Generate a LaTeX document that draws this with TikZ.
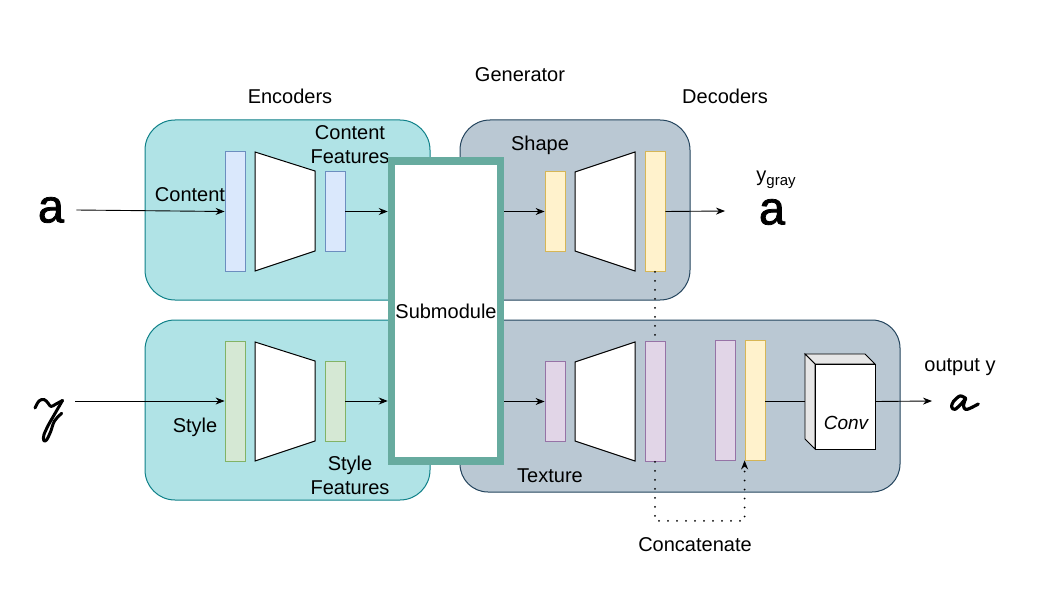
\documentclass[tikz,border=0pt]{standalone}
\usepackage{fontspec}
\setmainfont{Liberation Sans}
\newfontfamily\heavyfont[FakeBold=1.6]{Liberation Sans}
\usetikzlibrary{arrows.meta}
\definecolor{encfill}{HTML}{B0E3E6}
\definecolor{encline}{HTML}{0E8088}
\definecolor{decfill}{HTML}{BAC8D3}
\definecolor{decline}{HTML}{23445D}
\definecolor{subline}{HTML}{67AB9F}
\definecolor{bluef}{HTML}{DAE8FC}\definecolor{bluel}{HTML}{6C8EBF}
\definecolor{greenf}{HTML}{D5E8D4}\definecolor{greenl}{HTML}{82B366}
\definecolor{yellf}{HTML}{FFF2CC}\definecolor{yelll}{HTML}{D6B656}
\definecolor{purpf}{HTML}{E1D5E7}\definecolor{purpl}{HTML}{9673A6}
\definecolor{sidef}{HTML}{E6E6E6}
\begin{document}
\begin{tikzpicture}[x=1pt,y=-1pt,
  lbl/.style={font=\fontsize{20}{24}\selectfont, inner sep=0pt},
  biga/.style={font=\heavyfont\fontsize{47}{50}\selectfont, inner sep=0pt},
  bar/.style={draw, minimum width=20pt, inner sep=0pt, line width=0.8pt},
  bluebar/.style={bar, draw=bluel, fill=bluef},
  greenbar/.style={bar, draw=greenl, fill=greenf},
  yellbar/.style={bar, draw=yelll, fill=yellf},
  purpbar/.style={bar, draw=purpl, fill=purpf},
  encbox/.style={draw=encline, fill=encfill, rounded corners=30pt, line width=1pt, inner sep=0pt},
  decbox/.style={draw=decline, fill=decfill, rounded corners=30pt, line width=1pt, inner sep=0pt},
  arr/.style={-{Stealth[length=9pt,width=7pt]}, line width=0.9pt},
  plain/.style={line width=0.9pt},
  trap/.style={draw, fill=white, line width=1pt},
  dots/.style={line width=2pt, dash pattern=on 0pt off 9pt, line cap=round},
  glyph/.style={line width=3pt, line cap=round, line join=round}]
\useasboundingbox (0,0) rectangle (1041,591);

% containers
\node[encbox, minimum width=285pt, minimum height=180pt] (enc1) at (287.5,210) {};
\node[encbox, minimum width=285pt, minimum height=180pt] (enc2) at (287.5,410) {};
\node[decbox, minimum width=230pt, minimum height=180pt] (dec1) at (575,210) {};
\node[decbox, minimum width=440pt, minimum height=172pt, rounded corners=28pt] (dec2) at (680,406) {};

% titles
\node[lbl] (tenc) at (290,96) {Encoders};
\node[lbl] (tgen) at (520,75) {Generator};
\node[lbl] (tdec) at (725,96) {Decoders};

% encoder top
\node[bluebar, minimum height=120pt] (cbar) at (235,211.5) {};
\draw[trap] (255,152) -- (315,171) -- (315,251) -- (255,271) -- cycle;
\node[bluebar, minimum height=80pt] (cfeat) at (335,211.5) {};
\node[lbl] (lcontent) at (190,195) {Content};
\node[lbl, align=center] (lcfeat) at (350,145) {Content\\Features};

% encoder bottom
\node[greenbar, minimum height=120pt] (sbar) at (235,401.5) {};
\draw[trap] (255,342) -- (315,361) -- (315,441) -- (255,461) -- cycle;
\node[greenbar, minimum height=80pt] (sfeat) at (335,401) {};
\node[lbl] (lstyle) at (195,427) {Style};
\node[lbl, align=center] (lsfeat) at (350,475) {Style\\Features};

% decoder top
\node[yellbar, minimum height=80pt] (shin) at (555,211.5) {};
\draw[trap] (575,172) -- (635,152) -- (635,271) -- (575,251) -- cycle;
\node[yellbar, minimum height=120pt] (shout) at (655,211.5) {};
\node[lbl] (lshape) at (540,145) {Shape};

% decoder bottom
\node[purpbar, minimum height=80pt] (txin) at (555,401.5) {};
\draw[trap] (575,362) -- (635,342) -- (635,461) -- (575,441) -- cycle;
\node[purpbar, minimum height=120pt] (txout) at (655,401.5) {};
\node[purpbar, minimum height=120pt] (cpurp) at (725,400) {};
\node[yellbar, minimum height=120pt] (cyell) at (755,400) {};
\node[lbl] (ltexture) at (550,476) {Texture};

% conv cube
\draw[line width=0.9pt, fill=sidef] (805,354) -- (865,354) -- (875,364) -- (815,364) -- cycle;
\draw[line width=0.9pt, fill=sidef] (805,354) -- (815,364) -- (815,449) -- (805,439) -- cycle;
\node[draw, fill=white, line width=0.9pt, minimum width=60pt, minimum height=85pt, inner sep=0pt] (conv) at (845,406.5) {};
\node[font=\fontsize{19}{21}\selectfont\itshape, inner sep=0pt] (lconv) at (846,423) {Conv};

% submodule
\node[draw=subline, fill=white, line width=7.5pt, minimum width=109pt, minimum height=300pt, inner sep=0pt, font=\fontsize{20}{24}\selectfont] (sub) at (446,311) {Submodule};

% inputs
\node[biga, inner xsep=12pt] (ain) at (51,210) {a};
\coordinate (zin) at (75,401);
\draw[glyph] plot[smooth, tension=0.6] coordinates {(35,408) (39,401) (44,399.5) (48,403) (51,406.5) (56,404) (62.5,400.5)};
\draw[glyph] (62.5,400.5) -- (49.3,423.3);
\draw[glyph] plot[smooth, tension=0.6] coordinates {(49.3,423.3) (44,434.5) (43.8,440.5) (46.5,440) (50.5,432) (54.5,421) (61.7,413.3)};

% outputs
\node[biga] (gray) at (772,212) {a};
\node[lbl] (lgray) at (776,180) {y\raisebox{-4pt}{\fontsize{15}{17}\selectfont gray}};
\coordinate (gend) at (725,211);
\node[lbl] (lout) at (960,367) {output y};
\coordinate (oend) at (932,401);
\draw[glyph, line width=3.2pt] plot[smooth, tension=0.6] coordinates {(965.5,398.3) (960,396) (953.3,401.7) (951.7,407) (955,409.3) (961.7,403.3) (965.7,398.3)};
\draw[glyph, line width=3.2pt] plot[smooth, tension=0.6] coordinates {(965.7,398.3) (963.5,405.5) (965.5,409.3) (970,408.3) (978.3,404)};
\node[lbl] (lconcat) at (695,545) {Concatenate};

% connectors
\draw[arr] (ain.east) -- (cbar.west);
\draw[arr] (zin) -- (sbar.west |- zin);
\draw[arr] (cfeat.east) -- (cfeat.east -| sub.west);
\draw[arr] (sfeat.east) -- (sfeat.east -| sub.west);
\draw[arr] (sub.east |- shin.west) -- (shin.west);
\draw[arr] (sub.east |- txin.west) -- (txin.west);
\draw[arr] (shout.east) -- (gend);
\draw[plain] (cyell.east |- txout.east) -- ([xshift=-10pt]conv.west |- txout.east);
\draw[arr] (conv.east |- txout.east) -- (oend);
\draw[dots] (shout.south) -- (txout.north);
\draw[dots, -{Stealth[length=9pt,width=7pt]}] (txout.south) -- ++(0,59) -| (cyell.south west);
\end{tikzpicture}
\end{document}
